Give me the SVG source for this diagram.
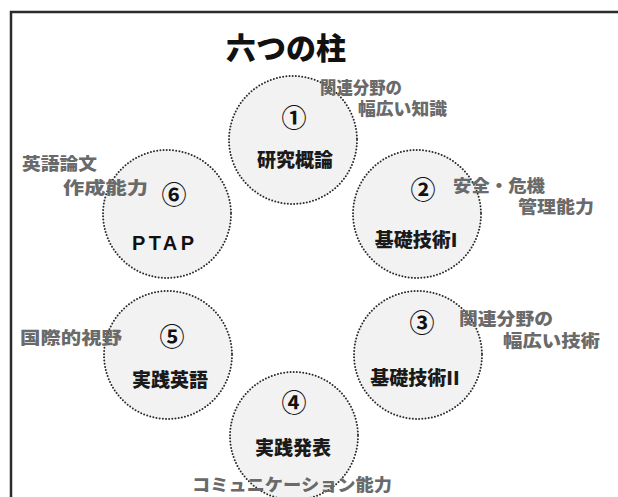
<svg xmlns="http://www.w3.org/2000/svg" width="618" height="497" viewBox="0 0 618 497">
<style>
.bg{fill:#ffffff}
.frame{fill:none;stroke:#2b2b2b;stroke-width:2.5}
.pillar{fill:#f2f2f2;stroke:#2a2a2a;stroke-width:2;stroke-dasharray:0 3.2;stroke-linecap:round}
.num{font-family:"Noto Sans CJK JP","Liberation Sans",sans-serif;font-size:25px;font-weight:bold;fill:#111;text-anchor:middle}
.lbl{font-family:"Noto Sans CJK JP","Liberation Sans",sans-serif;font-size:19px;font-weight:900;fill:#1a1a1a;text-anchor:middle}
.note{font-family:"Noto Sans CJK JP","Liberation Sans",sans-serif;font-size:17px;font-weight:900;fill:#6a6a6a}
.title{font-family:"Noto Sans CJK JP","Liberation Sans",sans-serif;font-size:30px;font-weight:900;fill:#111;text-anchor:middle}
</style>
<rect class="bg" x="0" y="0" width="618" height="497"/>
<rect class="frame" x="11" y="12" width="640" height="520"/>
<text class="title" x="286" y="59">六つの柱</text>
<g id="connectors"></g>
<g id="node1">
<circle class="pillar" cx="293" cy="140" r="64"/>
<text class="num" x="294" y="127">①</text>
<text class="lbl" x="295" y="167">研究概論</text>
</g>
<g id="node2">
<circle class="pillar" cx="417" cy="214" r="64"/>
<text class="num" x="423" y="199">②</text>
<text class="lbl" x="416" y="247">基礎技術I</text>
</g>
<g id="node3">
<circle class="pillar" cx="418" cy="355" r="64"/>
<text class="num" x="422" y="332">③</text>
<text class="lbl" x="415" y="385">基礎技術II</text>
</g>
<g id="node4">
<circle class="pillar" cx="294" cy="436" r="64"/>
<text class="num" x="294" y="412">④</text>
<text class="lbl" x="293" y="455">実践発表</text>
</g>
<g id="node5">
<circle class="pillar" cx="168" cy="355" r="64"/>
<text class="num" x="172" y="346">⑤</text>
<text class="lbl" x="170" y="387">実践英語</text>
</g>
<g id="node6">
<circle class="pillar" cx="167" cy="214" r="64"/>
<text class="num" x="174" y="204">⑥</text>
<text x="132" y="250" font-family="Liberation Sans, Arial, sans-serif" font-size="20" font-weight="bold" fill="#111" textLength="62" lengthAdjust="spacing">PTAP</text>
</g>
<g id="notes">
<text class="note" x="320" y="94" textLength="82" lengthAdjust="spacingAndGlyphs">関連分野の</text>
<text class="note" x="358" y="115" textLength="89" lengthAdjust="spacingAndGlyphs">幅広い知識</text>
<text class="note" x="22" y="170" textLength="75" lengthAdjust="spacingAndGlyphs">英語論文</text>
<text class="note" x="63" y="194" textLength="85" lengthAdjust="spacingAndGlyphs">作成能力</text>
<text class="note" x="453" y="192" textLength="92" lengthAdjust="spacingAndGlyphs">安全・危機</text>
<text class="note" x="518" y="213" textLength="76" lengthAdjust="spacingAndGlyphs">管理能力</text>
<text class="note" x="459" y="325" textLength="94" lengthAdjust="spacingAndGlyphs">関連分野の</text>
<text class="note" x="503" y="347" textLength="97" lengthAdjust="spacingAndGlyphs">幅広い技術</text>
<text class="note" x="20" y="344" textLength="102" lengthAdjust="spacingAndGlyphs">国際的視野</text>
<text class="note" x="192" y="491" textLength="200" lengthAdjust="spacingAndGlyphs">コミュニケーション能力</text>
</g>
</svg>
